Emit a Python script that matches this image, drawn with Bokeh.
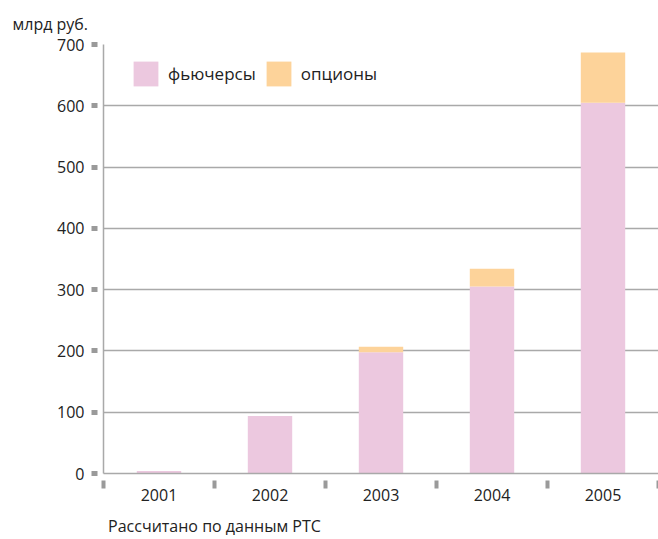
from bokeh.plotting import figure
from bokeh.models import Range1d, FixedTicker, ColumnDataSource, Title, LinearAxis
from bokeh.embed import file_html
from bokeh.resources import INLINE

# Объём торгов на срочном рынке, млрд руб.
years = ["2001", "2002", "2003", "2004", "2005"]
futures = [4, 94, 198, 305, 605]
options = [0, 0, 9, 29, 82]
y_ticks = [0, 100, 200, 300, 400, 500, 600, 700]
source_note = "Рассчитано по данным РТС"

PINK = "#ecc8df"
ORANGE = "#fdd39a"
GRID = "#a9a9a9"
TEXT = "#222222"
FONT = "Open Sans"

pos = [i + 0.5 for i in range(len(years))]
src = ColumnDataSource(dict(x=pos, futures=futures, options=options))

p = figure(width=658, height=539, output_backend="svg", toolbar_location=None,
           x_range=Range1d(0, len(years)), y_range=Range1d(0, 700),
           min_border_left=103, min_border_right=0, min_border_top=43,
           min_border_bottom=66)
p.outline_line_color = None
p.background_fill_color = "white"

p.vbar_stack(["futures", "options"], x="x", width=0.4, source=src,
             color=[PINK, ORANGE], line_color=None,
             legend_label=["фьючерсы", "опционы"])

# unit caption above the value axis
p.title = Title(text="млрд руб.", align="left", offset=-91, standoff=20,
                text_font=FONT, text_font_size="16px",
                text_font_style="normal", text_color=TEXT)

# value axis: small grey squares set apart from the axis line
ya = p.yaxis[0]
ya.ticker = FixedTicker(ticks=y_ticks, minor_ticks=[])
ya.axis_line_color = GRID
ya.axis_line_width = 1.5
ya.major_tick_out = 12
ya.major_tick_in = 0
ya.major_tick_line_width = 5
ya.major_tick_line_color = "#9a9a9a"
ya.major_tick_line_dash = "6 20"
ya.minor_tick_line_color = None
ya.major_label_standoff = 7
ya.major_label_text_font = FONT
ya.major_label_text_font_size = "16px"
ya.major_label_text_color = TEXT

# year axis: labels at bar centres, grey marks at the category borders
xa = p.xaxis[0]
xa.ticker = FixedTicker(ticks=pos, minor_ticks=list(range(len(years) + 1)))
xa.major_label_overrides = {x: y for x, y in zip(pos, years)}
xa.axis_line_color = GRID
xa.axis_line_width = 1.5
xa.major_tick_line_color = None
xa.major_tick_out = 10
xa.major_tick_in = 0
xa.minor_tick_out = 15
xa.minor_tick_in = 0
xa.minor_tick_line_width = 4
xa.minor_tick_line_color = "#9a9a9a"
xa.minor_tick_line_dash = "8 20"
xa.major_label_standoff = 0
xa.major_label_text_font = FONT
xa.major_label_text_font_size = "16px"
xa.major_label_text_color = TEXT

# source note, set as a bare axis row under the years
note = LinearAxis(ticker=FixedTicker(ticks=[1.0], minor_ticks=[]),
                  major_label_overrides={1.0: source_note},
                  axis_line_color=None, major_tick_line_color=None,
                  minor_tick_line_color=None, major_tick_out=0,
                  major_tick_in=0, minor_tick_out=0, minor_tick_in=0,
                  major_label_standoff=11, major_label_text_font=FONT,
                  major_label_text_font_size="16px",
                  major_label_text_color=TEXT)
p.add_layout(note, "below")

p.xgrid.grid_line_color = None
p.ygrid.ticker = FixedTicker(ticks=y_ticks)
p.ygrid.grid_line_color = GRID
p.ygrid.grid_line_width = 1.5

lg = p.legend[0]
lg.orientation = "horizontal"
lg.location = (27, 384)
lg.margin = 0
lg.padding = 0
lg.border_line_color = None
lg.background_fill_alpha = 0
lg.glyph_width = 31
lg.glyph_height = 31
lg.label_standoff = 7
lg.spacing = 7
lg.label_text_font = FONT
lg.label_text_font_size = "17px"
lg.label_text_color = TEXT

open("out.html", "w").write(file_html(p, INLINE))
